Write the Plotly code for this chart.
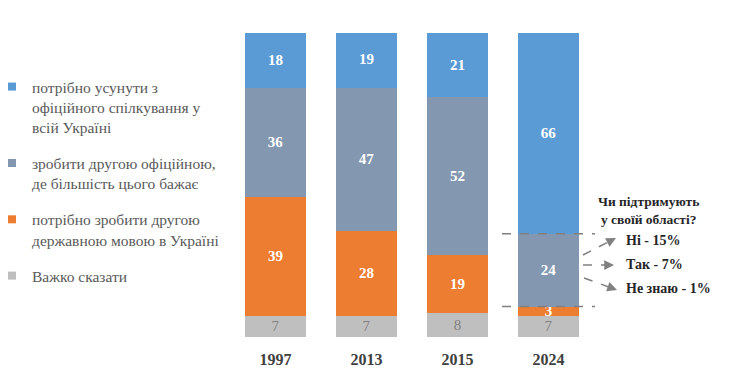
import plotly.graph_objects as go

years = ["1997", "2013", "2015", "2024"]
remove_official = [18, 19, 21, 66]
second_official_where_wanted = [36, 47, 52, 24]
second_state = [39, 28, 19, 3]
hard_to_say = [7, 7, 8, 7]

names = [
    "Важко сказати",
    "потрібно зробити другою<br>державною мовою в Україні",
    "зробити другою офіційною,<br>де більшість цього бажає",
    "потрібно усунути з<br>офіційного спілкування у<br>всій Україні",
]
series = [hard_to_say, second_state, second_official_where_wanted, remove_official]
colors = ["#BFBFBF", "#ED7D31", "#8497B0", "#5B9BD5"]
text_colors = ["#7F7F7F", "white", "white", "white"]
text_weights = ["normal", "bold", "bold", "bold"]

sub_q = ["Чи підтримують<br>у своїй області?"]
sub_labels = ["Ні - 15%", "Так - 7%", "Не знаю - 1%"]

SERIF = "Liberation Serif"

# plot-area geometry (pixels)
W, H = 740, 376
L, R, T, B = 230, 146, 33, 39
PW = W - L - R
PH = H - T - B
YMAX = 100


def px2x(px):
    return (px - L) / PW


def px2y(py):
    return (H - B - py) / PH * YMAX


fig = go.Figure()
for i, (nm, vals) in enumerate(zip(names, series)):
    fig.add_trace(go.Bar(
        x=years, y=vals, name=nm, marker_color=colors[i], marker_line_width=0,
        text=vals, textposition="inside", insidetextanchor="middle", textangle=0,
        textfont=dict(family=SERIF, size=15, color=text_colors[i], weight=text_weights[i]),
        showlegend=False, hoverinfo="skip",
    ))
# legend entries (small square keys), in display order
for i in reversed(range(len(names))):
    fig.add_trace(go.Scatter(
        x=[None], y=[None], mode="markers", name=names[i], legendgroup=str(i),
        marker=dict(symbol="square", size=8, color=colors[i]),
    ))

shapes = []
annotations = []
gcol = "#808080"
top24 = hard_to_say[3] + second_state[3] + second_official_where_wanted[3]
bot24 = hard_to_say[3] + second_state[3]
for lvl in (top24, bot24):
    shapes.append(dict(type="line", xref="paper", yref="y", x0=px2x(502), x1=px2x(595),
                       y0=lvl, y1=lvl, line=dict(color=gcol, width=1.5, dash="dash")))

arrows = [((583, 255), (616, 238)), ((583, 265), (614, 265)), ((584, 278), (617, 290))]
for (x0, y0), (x1, y1) in arrows:
    shapes.append(dict(type="line", xref="paper", yref="y", x0=px2x(x0), x1=px2x(x1 - 4),
                       y0=px2y(y0), y1=px2y(y1 - (y1 - y0) * 4 / (x1 - x0)),
                       line=dict(color=gcol, width=1.5, dash="dash")))
    dx, dy = x1 - x0, y1 - y0
    n = (dx * dx + dy * dy) ** 0.5
    annotations.append(dict(x=px2x(x1), y=px2y(y1), xref="paper", yref="y", text="",
                            showarrow=True, ax=-dx / n * 9, ay=-dy / n * 9,
                            arrowhead=2, arrowsize=1.3, arrowwidth=1.5, arrowcolor=gcol))

annotations.append(dict(x=px2x(648), y=px2y(210), xref="paper", yref="y", text=sub_q[0],
                        showarrow=False, xanchor="center", yanchor="middle",
                        font=dict(family=SERIF, size=13.5, color="#262626", weight="bold")))
for lab, py in zip(sub_labels, (240, 264, 288)):
    annotations.append(dict(x=px2x(624), y=px2y(py), xref="paper", yref="y", text=lab,
                            showarrow=False, xanchor="left", yanchor="middle",
                            font=dict(family=SERIF, size=14, color="#262626", weight="bold")))

fig.update_layout(
    width=W, height=H,
    margin=dict(l=L, r=R, t=T, b=B, autoexpand=False),
    barmode="stack", bargap=0.33,
    paper_bgcolor="white", plot_bgcolor="white",
    showlegend=True,
    legend=dict(x=px2x(-8), xanchor="left", y=1 - (70 - T) / PH, yanchor="top",
                traceorder="grouped", tracegroupgap=13, valign="top",
                font=dict(family=SERIF, size=15.5, color="#595959"),
                bgcolor="rgba(0,0,0,0)", itemclick=False),
    xaxis=dict(showgrid=False, showline=False, zeroline=False, ticks="outside", ticklen=8,
               tickcolor="rgba(0,0,0,0)",
               tickfont=dict(family=SERIF, size=16, color="#404040", weight="bold")),
    yaxis=dict(range=[0, YMAX], visible=False, showgrid=False),
    uniformtext=dict(mode="show", minsize=15),
    shapes=shapes, annotations=annotations,
)

fig.write_html("out.html", config={"displayModeBar": False},
               post_script="document.body.style.margin='0';document.body.style.overflow='hidden';")
